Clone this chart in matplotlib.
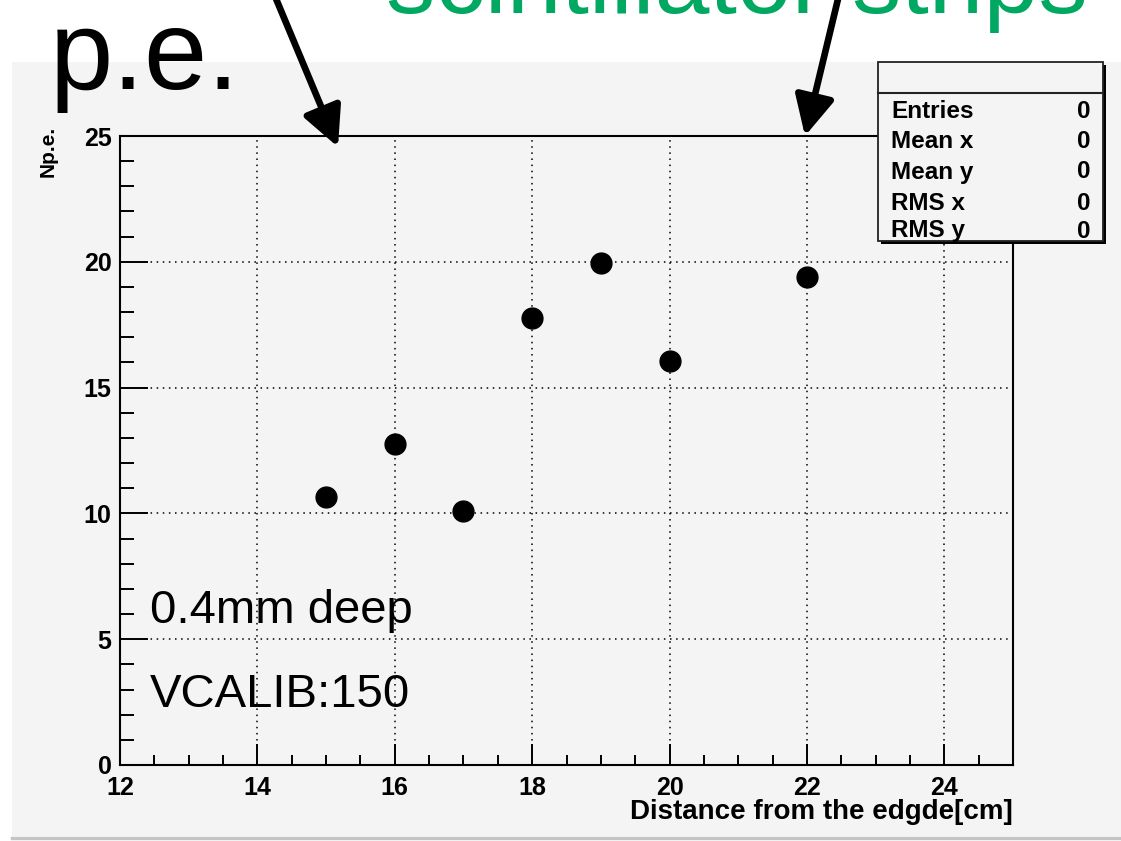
import matplotlib
matplotlib.use("Agg")
import matplotlib.pyplot as plt
from matplotlib.patches import Rectangle, FancyArrowPatch
from matplotlib.lines import Line2D
from matplotlib.ticker import MultipleLocator

W, H = 1121, 841

# data
x_cm = [15, 16, 17, 18, 19, 20, 22]
npe = [10.65, 12.75, 10.1, 17.75, 19.95, 16.05, 19.4]
x_ticks = [12, 14, 16, 18, 20, 22, 24]
y_ticks = [0, 5, 10, 15, 20, 25]
stat_names = ["Entries", "Mean x", "Mean y", "RMS x", "RMS y"]
stat_values = ["0", "0", "0", "0", "0"]


def px(x):
    return x / W


def py(y):
    return 1 - y / H


plt.rcParams['font.family'] = ['Liberation Sans', 'DejaVu Sans']

fig = plt.figure(figsize=(W / 100, H / 100), dpi=100)
fig.patch.set_facecolor('white')

# grey ROOT canvas
fig.patches.append(Rectangle((px(12), py(836)), 1 - px(12), py(62) - py(836),
                             transform=fig.transFigure, facecolor='#f4f4f4',
                             edgecolor='none', zorder=-2))
fig.add_artist(Line2D([px(12), 1], [py(838), py(838)], transform=fig.transFigure,
                      color='#c4c4c4', lw=2.5, zorder=-1))

ax = fig.add_axes([px(120), py(765), px(1013) - px(120), py(136) - py(765)])
ax.set_facecolor('#f4f4f4')
ax.plot(x_cm, npe, 'o', color='black', markersize=15, zorder=3)

ax.set_xlim(12, 25)
ax.set_ylim(0, 25)
ax.set_xticks(x_ticks)
ax.set_yticks(y_ticks)
ax.xaxis.set_minor_locator(MultipleLocator(0.5))
ax.yaxis.set_minor_locator(MultipleLocator(1))
ax.tick_params(which='both', direction='in', top=False, right=False, width=1.4)
ax.tick_params(axis='x', which='major', length=15, pad=8, labelsize=18)
ax.tick_params(axis='x', which='minor', length=7)
ax.tick_params(axis='y', which='major', length=20, pad=6, labelsize=18)
ax.tick_params(axis='y', which='minor', length=10)
for lab in ax.get_xticklabels() + ax.get_yticklabels():
    lab.set_fontweight('bold')
ax.grid(True, which='major', color='black', linestyle=(0, (1, 3)), lw=1.1)
for s in ax.spines.values():
    s.set_linewidth(1.5)

ax.text(px(150 - 120) / (px(1013) - px(120)), (py(623) - py(765)) / (py(136) - py(765)),
        "0.4mm deep", transform=ax.transAxes, fontsize=34, va='baseline', ha='left')
ax.text(px(150 - 120) / (px(1013) - px(120)), (py(707) - py(765)) / (py(136) - py(765)),
        "VCALIB:150", transform=ax.transAxes, fontsize=34, va='baseline', ha='left')

fig.text(px(1013), py(812), "Distance from the edgde[cm]", ha='right', va='center',
         fontsize=20, fontweight='bold')
fig.text(px(48), py(151), "Np.e.", rotation=90, ha='center', va='center',
         fontsize=15, fontweight='bold')

# stats box
fig.patches.append(Rectangle((px(881), py(244)), px(1103) - px(878), py(62) - py(241),
                             transform=fig.transFigure, facecolor='black',
                             edgecolor='none', zorder=4))
fig.patches.append(Rectangle((px(878), py(241)), px(1103) - px(878), py(62) - py(241),
                             transform=fig.transFigure, facecolor='#f4f4f4',
                             edgecolor='#222222', lw=1.3, zorder=5))
fig.add_artist(Line2D([px(878), px(1103)], [py(93), py(93)], transform=fig.transFigure,
                      color='#222222', lw=1.5, zorder=6))
row_y = [111, 142, 172, 204, 231]
for name, val, ry in zip(stat_names, stat_values, row_y):
    fig.text(px(891), py(ry), name, ha='left', va='center', fontsize=17.5,
             fontweight='bold', zorder=7)
    fig.text(px(1091), py(ry), val, ha='right', va='center', fontsize=17.5,
             fontweight='bold', zorder=7)

# slide overlay text and arrows
fig.text(px(50), py(89), "p.e.", fontsize=82, va='baseline', ha='left', zorder=8)
fig.text(px(386), py(13), "scintillator strips", fontsize=71, color='#00a862',
         va='baseline', ha='left', zorder=8)

for (x0, y0), (x1, y1) in [((264, -30), (338, 147)), ((845, -30), (805, 136))]:
    arr = FancyArrowPatch((px(x0), py(y0)), (px(x1), py(y1)), transform=fig.transFigure,
                          arrowstyle='-|>,head_length=1.2,head_width=0.6',
                          mutation_scale=20, lw=4.8, color='black',
                          shrinkA=0, shrinkB=0, zorder=9)
    fig.patches.append(arr)

fig.savefig("out.png", dpi=100)
